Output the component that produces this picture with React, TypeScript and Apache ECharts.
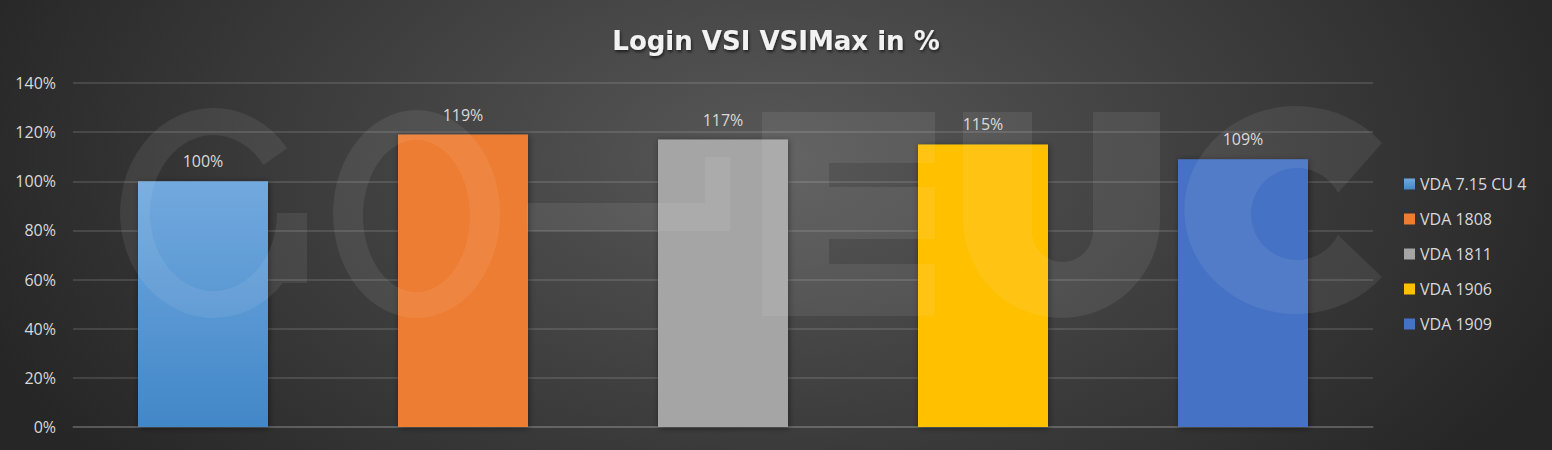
import React, { useEffect, useRef } from "react";
import * as echarts from "echarts";

const titleText = "Login VSI VSIMax in %";
const categories = ["VDA 7.15 CU 4", "VDA 1808", "VDA 1811", "VDA 1906", "VDA 1909"];
const values = [100, 119, 117, 115, 109];
const yMin = 0;
const yMax = 140;
const yInterval = 20;

const FONT = "'Open Sans', 'Noto Sans', sans-serif";
const TEXT = "#d9d9d9";
const WM = "rgba(255,255,255,0.075)";

const logoPath = [
  // G
  "M287.2 148.3 A93.5 105 0 1 0 307 213 L277 213 A63.5 78 0 1 1 263.5 165 Z",
  "M277 213 L277 283 L307 283 L307 213 Z",
  // O
  "M333 214 A83.5 104 0 1 0 500 214 A83.5 104 0 1 0 333 214 Z",
  "M363 216 A53.5 76 0 1 1 470 216 A53.5 76 0 1 1 363 216 Z",
  // hyphen
  "M527 203 L705 203 L705 157 L730 157 L730 231 L527 231 Z",
  // E
  "M762 112 L935 112 L935 163 L829 163 L829 187 L935 187 L935 239 L829 239 L829 264 L935 264 L935 316 L762 316 Z",
  // U
  "M963 112 L963 219.5 A98.5 98.5 0 0 0 1160 219.5 L1160 112 L1093 112 L1093 231.5 A30.5 30.5 0 0 1 1032 231.5 L1032 112 Z",
  // C
  "M1382 143 A112 104 0 1 0 1382 277 L1338 235 A46 46 0 1 1 1338 193 Z",
].join(" ");

let registered = false;

export default function App() {
  const ref = useRef<HTMLDivElement>(null);

  useEffect(() => {
    document.body.style.margin = "0";
    if (!registered) {
      echarts.graphic.registerShape("logo", echarts.graphic.extendPath(logoPath, {}));
      registered = true;
    }
    const chart = echarts.init(ref.current!, undefined, { renderer: "svg" });

    const colors: any[] = [
      new echarts.graphic.LinearGradient(0, 0, 0, 1, [
        { offset: 0, color: "#72a9de" },
        { offset: 1, color: "#4287c8" },
      ]),
      "#ed7d31",
      "#a5a5a5",
      "#ffc000",
      "#4472c4",
    ];

    const series = categories.map((name, i) => ({
      name,
      type: "bar",
      stack: "all",
      barWidth: "50%",
      data: categories.map((_, j) => (j === i ? values[i] : "-")),
      itemStyle: {
        color: colors[i],
        shadowBlur: 6,
        shadowColor: "rgba(0,0,0,0.45)",
        shadowOffsetX: 1,
        shadowOffsetY: 1,
      },
      label: {
        show: true,
        position: "top",
        distance: 12,
        formatter: "{c}%",
        color: TEXT,
        fontSize: 16,
        fontFamily: FONT,
      },
    }));

    chart.setOption({
      animation: false,
      backgroundColor: "transparent",
      title: {
        text: titleText,
        left: "center",
        top: 23,
        textStyle: {
          color: "#f2f2f2",
          fontSize: 26,
          fontWeight: "bold",
          fontFamily: "'DejaVu Sans', 'Open Sans', sans-serif",
          textShadowColor: "rgba(0,0,0,0.6)",
          textShadowBlur: 3,
          textShadowOffsetX: 1,
          textShadowOffsetY: 2,
        },
      },
      legend: {
        orient: "vertical",
        left: 1399,
        top: 171,
        itemWidth: 11,
        itemHeight: 11,
        itemGap: 19,
        icon: "rect",
        data: categories,
        textStyle: { color: TEXT, fontSize: 16, fontFamily: FONT, lineHeight: 16 },
      },
      grid: { left: 73, right: 179, top: 83, bottom: 23, containLabel: false },
      xAxis: {
        type: "category",
        data: categories,
        axisLine: { show: true, lineStyle: { color: "rgba(217,217,217,0.2)", width: 1.5 } },
        axisTick: { show: false },
        axisLabel: { show: false },
      },
      yAxis: {
        type: "value",
        min: yMin,
        max: yMax,
        interval: yInterval,
        axisLine: { show: false },
        axisTick: { show: false },
        axisLabel: {
          formatter: "{value}%",
          color: TEXT,
          fontSize: 16,
          fontFamily: FONT,
          margin: 17,
        },
        splitLine: { lineStyle: { color: "rgba(217,217,217,0.2)", width: 1.5 } },
      },
      graphic: [
        {
          type: "logo",
          x: 0,
          y: 0,
          scaleX: 1,
          scaleY: 1,
          z: 100,
          silent: true,
          style: { fill: WM },
        },
      ],
      series,
    });

    return () => chart.dispose();
  }, []);

  return (
    <div
      ref={ref}
      style={{
        width: 1552,
        height: 450,
        background:
          "radial-gradient(ellipse 55% 110% at 50% 35%, #585858 0%, #3a3a3a 60%, #262626 100%)",
      }}
    />
  );
}
